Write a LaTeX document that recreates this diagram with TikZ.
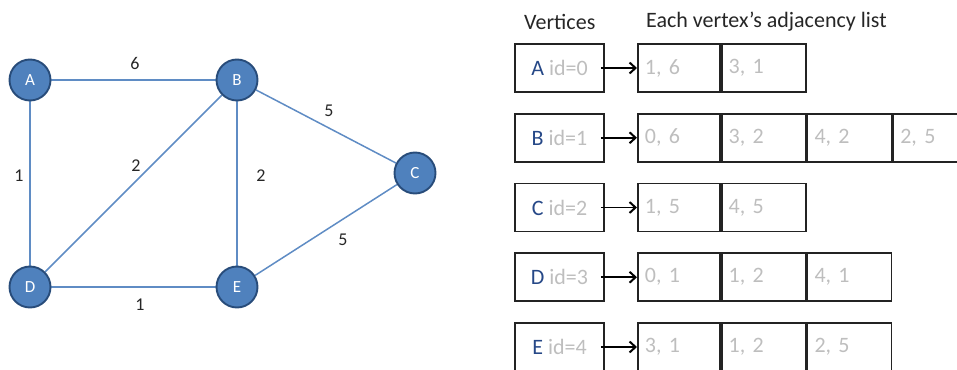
\documentclass[tikz,border=0pt]{standalone}
\usepackage{fontspec}
\setmainfont{Carlito}
\usetikzlibrary{arrows.meta,backgrounds}

\definecolor{vfill}{RGB}{79,129,189}
\definecolor{vline}{RGB}{40,76,122}
\definecolor{eline}{RGB}{95,140,196}
\definecolor{idgray}{RGB}{190,190,190}
\definecolor{vblue}{RGB}{38,72,135}
\definecolor{boxline}{RGB}{35,35,35}

\tikzset{
  vertex/.style={circle, fill=vfill, draw=vline, line width=1.9pt,
    minimum size=41pt, inner sep=0pt, text=white,
    font=\fontsize{17}{17}\selectfont},
  edgeline/.style={draw=eline, line width=1.5pt},
  weight/.style={font=\fontsize{18}{18}\selectfont, text=black!85, inner sep=0pt},
  header/.style={font=\fontsize{22}{22}\selectfont, text=black!85, anchor=west, inner sep=0pt},
  vbox/.style={draw=boxline, line width=1.8pt, minimum width=89pt, minimum height=48pt,
    inner sep=0pt, font=\fontsize{22}{22}\selectfont},
  cell/.style={draw=boxline, line width=1.8pt, minimum height=48pt, minimum width=#1,
    inner sep=0pt, text width=#1-14pt, align=left, text=idgray, anchor=west,
    font=\fontsize{22}{22}\selectfont},
  link/.style={-{Straight Barb[length=6pt,width=11pt,line width=2pt]}, line width=1.9pt, black},
}
\newcommand{\vlabel}[2]{\textcolor{vblue}{#1} \textcolor{idgray}{id=#2}}

\begin{document}
\begin{tikzpicture}[x=1pt, y=-1pt]
  \useasboundingbox (0,0) rectangle (957,369);
  \clip (0,0) rectangle (957,369);

  % graph vertices
  \node[vertex] (A) at (30,80) {A};
  \node[vertex] (B) at (237,80) {B};
  \node[vertex] (C) at (415,173) {C};
  \node[vertex] (D) at (30,287) {D};
  \node[vertex] (E) at (237,287) {E};

  % weighted edges, behind the vertices
  \begin{scope}[on background layer]
    \draw[edgeline] (A) -- (B);
    \draw[edgeline] (A) -- (D);
    \draw[edgeline] (B) -- (D);
    \draw[edgeline] (B) -- (E);
    \draw[edgeline] (B) -- (C);
    \draw[edgeline] (D) -- (E);
    \draw[edgeline] (E) -- (C);
  \end{scope}

  \node[weight] (wAB) at (135,63) {6};
  \node[weight] (wAD) at (19,176) {1};
  \node[weight] (wBD) at (136,166) {2};
  \node[weight] (wBE) at (261,176) {2};
  \node[weight] (wBC) at (329,111) {5};
  \node[weight] (wEC) at (343,240) {5};
  \node[weight] (wDE) at (140,305) {1};

  % column headers
  \node[header] (hv) at (524,22) {Vertices};
  \node[header] (ha) at (646,22) {Each vertex’s adjacency list};

  % vertex table
  \node[vbox] (vA) at (559.5,68)     {\vlabel{A}{0}};
  \node[vbox] (vB) at (559.5,137.75) {\vlabel{B}{1}};
  \node[vbox] (vC) at (559.5,207.5)  {\vlabel{C}{2}};
  \node[vbox] (vD) at (559.5,277.25) {\vlabel{D}{3}};
  \node[vbox] (vE) at (559.5,347)    {\vlabel{E}{4}};

  % adjacency lists: (neighbour id, weight)
  \node[cell=82pt] (cA1) at (637,68) {1, 6};
  \node[cell=84pt] (cA2) at (cA1.east) {3, 1};

  \node[cell=82pt] (cB1) at (637,137.75) {0, 6};
  \node[cell=84pt] (cB2) at (cB1.east) {3, 2};
  \node[cell=84pt] (cB3) at (cB2.east) {4, 2};
  \node[cell=84pt] (cB4) at (cB3.east) {2, 5};

  \node[cell=82pt] (cC1) at (637,207.5) {1, 5};
  \node[cell=84pt] (cC2) at (cC1.east) {4, 5};

  \node[cell=82pt] (cD1) at (637,277.25) {0, 1};
  \node[cell=84pt] (cD2) at (cD1.east) {1, 2};
  \node[cell=84pt] (cD3) at (cD2.east) {4, 1};

  \node[cell=82pt] (cE1) at (637,347) {3, 1};
  \node[cell=84pt] (cE2) at (cE1.east) {1, 2};
  \node[cell=84pt] (cE3) at (cE2.east) {2, 5};

  % head pointers
  \foreach \v in {A,B,C,D,E}
    \draw[link] ([xshift=-4pt]v\v.east) -- (c\v1.west);
\end{tikzpicture}
\end{document}
